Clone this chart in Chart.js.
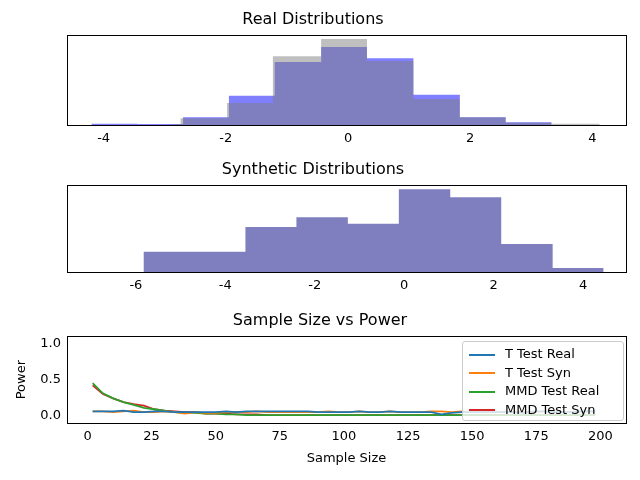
<!DOCTYPE html>
<html>
<head>
<meta charset="utf-8">
<script src="https://cdn.jsdelivr.net/npm/chart.js@4"></script>
<style>
  body { margin: 0; background: #fff; font-family: "DejaVu Sans", sans-serif; }
  #wrap { position: relative; width: 640px; height: 480px; }
  canvas { position: absolute; left: 0; }
  #legend { position: absolute; left: 462px; top: 341px; width: 162px; height: 80px;
    background: rgba(255,255,255,0.8); border: 1px solid #ccc; border-radius: 3px; box-sizing: border-box;
    font-size: 13px; color: #000; padding: 3px 6px; }
  #legend div { height: 18.5px; line-height: 18.5px; white-space: nowrap; }
  #legend span { display: inline-block; width: 26px; height: 2px; vertical-align: middle; margin-right: 10px; }
</style>
</head>
<body>
<div id="wrap">
  <canvas id="c1" style="top:0px"></canvas>
  <canvas id="c2" style="top:150px"></canvas>
  <canvas id="c3" style="top:305px"></canvas>
  <div id="legend"></div>
</div>
<script>
// real histograms: bin edges and counts
const realEdgesA = [-2.87, -2.74, -1.98, -1.23, -0.44, 0.31, 1.07, 1.83, 2.58, 3.34, 4.12];
const realCountsA = [3, 20, 65, 203, 254, 189, 77, 23, 7, 4];
const realEdgesB = [-4.20, -3.45, -2.70, -1.95, -1.20, -0.44, 0.31, 1.07, 1.83, 2.58, 3.33];
const realCountsB = [4, 3, 23, 86, 186, 230, 197, 89, 23, 8];
// synthetic histogram
const synEdges = [-5.83, -4.69, -3.55, -2.41, -1.26, -0.12, 1.03, 2.17, 3.32, 4.46];
const synCounts = [61, 61, 135, 165, 145, 249, 225, 84, 12];
// power curves
const sampleSizes = [];
for (let n = 2; n <= 198; n += 4) sampleSizes.push(n);
const tTestReal = [0.06,0.06,0.06,0.07,0.05,0.05,0.06,0.06,0.05,0.05,0.05,0.05,0.05,0.06,0.05,0.06,0.06,0.06,0.06,0.06,0.06,0.06,0.05,0.05,0.05,0.05,0.06,0.05,0.05,0.06,0.05,0.05,0.05,0.05,0.02,0.04,0.05,0.05,0.05,0.05,0.05,0.05,0.04,0.06,0.06,0.05,0.05,0.05,0.06,0.06];
const tTestSyn = [0.06,0.06,0.05,0.06,0.07,0.05,0.05,0.06,0.05,0.03,0.05,0.04,0.04,0.05,0.05,0.05,0.06,0.05,0.05,0.05,0.05,0.05,0.05,0.06,0.05,0.05,0.06,0.05,0.05,0.06,0.05,0.05,0.05,0.06,0.06,0.05,0.06,0.05,0.05,0.06,0.05,0.06,0.05,0.05,0.06,0.06,0.05,0.05,0.06,0.06];
const mmdReal = [0.45,0.31,0.24,0.19,0.15,0.11,0.09,0.07,0.05,0.04,0.04,0.03,0.03,0.02,0.02,0.01,0.01,0.01,0.01,0.01,0.01,0.01,0.01,0.01,0.01,0.01,0.01,0.01,0.01,0.01,0.01,0.01,0.01,0.01,0.01,0.01,0.01,0.01,0.01,0.01,0.01,0.01,0.01,0.01,0.01,0.01,0.01,0.01,0.01,0.01];
const mmdSyn = [0.42,0.30,0.24,0.19,0.16,0.14,0.09,0.07,0.06,0.05,0.05,0.03,0.03,0.03,0.02,0.02,0.02,0.01,0.01,0.01,0.01,0.01,0.01,0.01,0.01,0.01,0.01,0.01,0.01,0.01,0.01,0.01,0.01,0.01,0.01,0.01,0.01,0.01,0.01,0.01,0.01,0.01,0.01,0.01,0.01,0.01,0.01,0.01,0.01,0.01];

const FONT = "'DejaVu Sans', sans-serif";
Chart.defaults.font.family = FONT;
Chart.defaults.color = '#000';
Chart.defaults.animation = false;
Chart.defaults.responsive = false;

// draw the full matplotlib-style box round the plot area
const frame = {
  id: 'frame',
  afterDraw(chart) {
    const a = chart.chartArea, ctx = chart.ctx;
    ctx.save();
    ctx.strokeStyle = '#000';
    ctx.lineWidth = 1;
    ctx.strokeRect(Math.round(a.left) + 0.5, Math.round(a.top) + 0.5, Math.round(a.right - a.left), Math.round(a.bottom - a.top));
    ctx.restore();
  }
};

// outline of a histogram: two points per bin (left and right edge at bin height)
function histPoints(edges, counts) {
  const pts = [{ x: edges[0], y: 0 }];
  counts.forEach((c, i) => {
    pts.push({ x: edges[i], y: c });
    pts.push({ x: edges[i + 1], y: c });
  });
  pts.push({ x: edges[edges.length - 1], y: 0 });
  return pts;
}

function histDataset(edges, counts, color) {
  return {
    data: histPoints(edges, counts),
    fill: 'origin',
    backgroundColor: color,
    borderWidth: 0,
    pointRadius: 0,
    tension: 0
  };
}

function histChart(id, height, title, datasets, xMin, xMax, xTicks, yMax) {
  const cv = document.getElementById(id);
  cv.width = 640; cv.height = height;
  return new Chart(cv, {
    type: 'line',
    data: { datasets },
    plugins: [frame],
    options: {
      layout: { padding: { right: 14 } },
      plugins: {
        legend: { display: false },
        tooltip: { enabled: false },
        title: { display: true, text: title, font: { size: 16, weight: 'normal' }, padding: { top: 10, bottom: 6 } }
      },
      scales: {
        x: {
          type: 'linear', min: xMin, max: xMax,
          grid: { display: false, drawTicks: true, tickLength: 4 },
          border: { color: '#000' },
          ticks: { font: { size: 13 }, padding: 2, maxRotation: 0 },
          afterBuildTicks: s => { s.ticks = xTicks.map(v => ({ value: v })); },
          afterFit: s => { s.height = 25; }
        },
        y: {
          min: 0, max: yMax,
          grid: { display: false },
          ticks: { display: false },
          border: { color: '#000' },
          afterFit: s => { s.width = 67; }
        }
      }
    }
  });
}

histChart('c1', 150, 'Real Distributions', [
  histDataset(realEdgesA, realCountsA, 'rgba(128,128,128,0.5)'),
  histDataset(realEdgesB, realCountsB, 'rgba(0,0,255,0.5)')
], -4.6, 4.55, [-4, -2, 0, 2, 4], 265);

histChart('c2', 147, 'Synthetic Distributions', [
  histDataset(synEdges, synCounts, 'rgba(0,0,128,0.5)')
], -7.54, 4.96, [-6, -4, -2, 0, 2, 4], 261);

// power chart
const seriesNames = ['T Test Real', 'T Test Syn', 'MMD Test Real', 'MMD Test Syn'];
const seriesValues = [tTestReal, tTestSyn, mmdReal, mmdSyn];
const seriesColors = ['#1f77b4', '#ff7f0e', '#2ca02c', '#d62728'];

const cv3 = document.getElementById('c3');
cv3.width = 640; cv3.height = 161;
new Chart(cv3, {
  type: 'line',
  data: {
    datasets: seriesNames.map((name, k) => ({
      label: name,
      data: sampleSizes.map((n, i) => ({ x: n, y: seriesValues[k][i] })),
      borderColor: seriesColors[k],
      borderWidth: 1.8,
      pointRadius: 0,
      tension: 0,
      fill: false
    }))
  },
  plugins: [frame],
  options: {
    layout: { padding: { right: 14, left: 14 } },
    plugins: {
      legend: { display: false },
      tooltip: { enabled: false },
      title: { display: true, text: 'Sample Size vs Power', font: { size: 16, weight: 'normal' }, padding: { top: 6, bottom: 6 } }
    },
    scales: {
      x: {
        type: 'linear', min: -8, max: 210,
        grid: { display: false, drawTicks: true, tickLength: 4 },
        border: { color: '#000' },
        ticks: { font: { size: 13 }, padding: 2, maxRotation: 0 },
        afterBuildTicks: s => { s.ticks = [0, 25, 50, 75, 100, 125, 150, 175, 200].map(v => ({ value: v })); },
        title: { display: true, text: 'Sample Size', font: { size: 13 }, padding: { top: 2, bottom: 0 } },
        afterFit: s => { s.height = 43; }
      },
      y: {
        min: -0.1, max: 1.1,
        grid: { display: false, drawTicks: true, tickLength: 4 },
        border: { color: '#000' },
        ticks: { font: { size: 13 }, padding: 2, callback: v => v.toFixed(1) },
        afterBuildTicks: s => { s.ticks = [0, 0.5, 1.0].map(v => ({ value: v })); },
        title: { display: true, text: 'Power', font: { size: 13 }, padding: { top: 0, bottom: 4 } },
        afterFit: s => { s.width = 53; }
      }
    }
  }
});

document.getElementById('legend').innerHTML = seriesNames.map((n, k) =>
  `<div><span style="background:${seriesColors[k]}"></span>${n}</div>`).join('');
</script>
</body>
</html>
